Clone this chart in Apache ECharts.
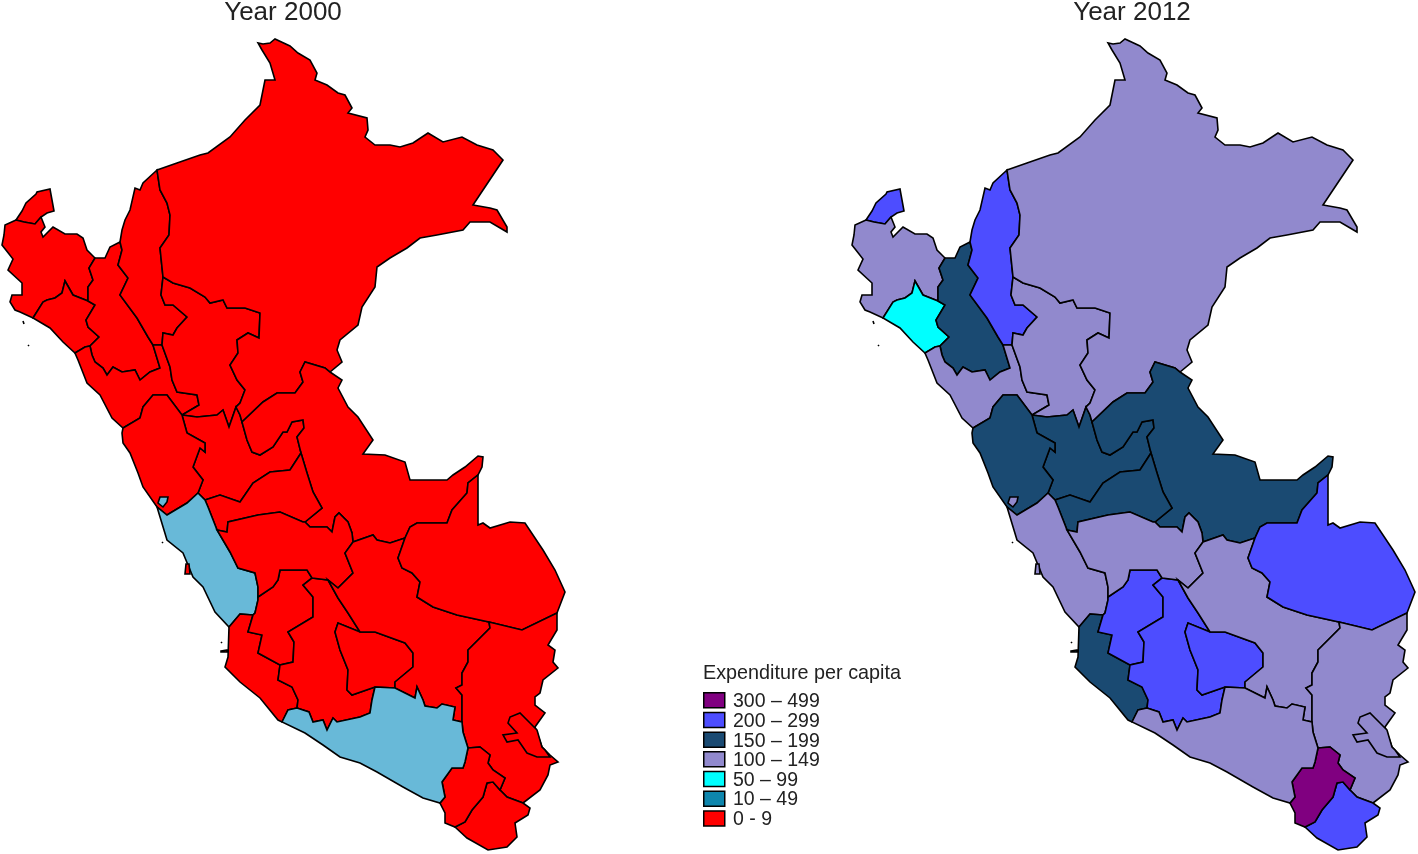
<!DOCTYPE html>
<html><head><meta charset="utf-8"><style>html,body{margin:0;background:#fff}#c{width:1418px;height:854px}</style>
<script src="https://cdn.jsdelivr.net/npm/echarts@6/dist/echarts.min.js"></script></head><body><div id="c"></div>
<script>
const regions=['Tumbes','Piura','Lambayeque','Cajamarca','Amazonas','La Libertad','San Martin','Huanuco','Loreto','Ucayali','Pasco','Ancash','Lima','Callao','Ica','Huancavelica','Ayacucho','Apurimac','Junin','Cusco','Madre de Dios','Puno','Lago Titicaca','Tacna','Moquegua','Arequipa'];
const values2000=[5,5,5,4,5,6,5,4,7,6,5,6,20,8,6,3,4,3,6,7,8,5,5,8,8,18];
const values2012=[230,125,80,165,240,120,130,170,135,180,175,170,125,125,160,225,240,250,140,130,260,115,115,280,400,145];
const legendLabels=['300 – 499','200 – 299','150 – 199','100 – 149','50 – 99','10 – 49','0 - 9'];
const legendLows=[300,200,150,100,50,10,0];
const legendColors=['#800080','#4d4dff','#1a4a72','#9189cd','#00ffff','#0e86ad','#ff0000'];
const fillColors=['#800080','#4d4dff','#1a4a72','#9189cd','#00ffff','#68b9d8','#ff0000'];
// shared boundary lines of the departments, in map units (x, southing)
const arcs={
tumCoast:[[16,220],[22,211],[26,203],[36,194],[37,192],[50,189],[52,200],[54,211],[47,213],[41,217]],
tumPiu:[[41,217],[35,224],[24,222],[16,220]],
piuWest:[[16,220],[5,225],[4,235],[2,245],[13,259],[8,270],[22,283],[22,295],[12,295],[10,302],[15,310],[20,312],[33,318]],
piuLam:[[33,318],[43,302],[47,300],[55,298],[62,293],[65,281],[73,295],[88,301]],
lamCaj:[[88,301],[95,305],[86,320],[88,327],[99,337],[90,346]],
lamLib:[[90,346],[85,347],[75,353]],
lamCoast:[[75,353],[63,342],[50,328],[33,318]],
piuCaj:[[95,258],[89,268],[93,280],[88,287],[89,300],[88,301]],
piuNorth:[[41,217],[45,227],[41,232],[43,237],[53,227],[65,234],[77,234],[83,238],[87,250],[95,258]],
cajNorth:[[95,258],[105,258],[110,247],[118,243],[120,242]],
cajAma:[[120,242],[122,250],[118,265],[128,278],[120,295],[137,318],[148,337],[153,345]],
cajLib:[[153,345],[160,368],[150,372],[140,380],[135,370],[122,372],[113,367],[107,375],[103,368],[95,362],[92,355],[90,346]],
amaLib:[[153,345],[162,345]],
libSM:[[162,345],[170,367],[172,380],[177,392],[197,395],[199,405],[182,415]],
libAnc:[[182,415],[167,395],[153,395],[143,407],[140,418],[123,428]],
libCoast:[[123,428],[112,418],[100,395],[87,383],[78,360],[75,353]],
amaNorth:[[120,242],[122,230],[125,220],[130,210],[135,188],[140,190],[143,183],[157,170]],
amaLor:[[157,170],[160,190],[167,203],[170,215],[169,235],[160,248],[163,277]],
amaSM:[[163,277],[161,295],[165,305],[173,305],[187,317],[177,328],[173,335],[163,333],[162,345]],
smLor:[[163,277],[173,283],[190,288],[205,297],[210,303],[223,300],[227,308],[245,308],[260,313],[259,338],[248,333],[237,340],[238,353],[230,365],[237,380],[245,390],[240,403],[236,407]],
smHua:[[182,415],[197,417],[217,415],[223,410],[229,427],[236,407]],
loHua:[[236,407],[240,415],[242,422]],
huaUca:[[242,422],[247,440],[252,452],[260,455],[273,447],[283,432],[287,432],[292,422],[303,420],[304,428],[297,437],[301,453]],
huaPas:[[301,453],[290,470],[270,472],[253,483],[240,502],[220,495],[205,500]],
huaLim:[[205,500],[198,493]],
huaAnc:[[198,493],[203,480],[193,467],[200,448],[205,452],[205,443],[187,433],[182,415]],
loNorth:[[157,170],[177,163],[200,155],[208,153],[230,137],[245,120],[260,105],[265,80],[275,80],[270,63],[262,50],[258,43],[263,44],[270,43],[275,39],[290,46],[298,53],[310,60],[317,73],[315,80],[327,85],[338,93],[345,95],[352,108],[348,113],[367,118],[368,130],[365,137],[375,145],[390,145],[400,147],[413,143],[428,133],[443,142],[462,137],[477,145],[493,150],[503,160],[473,205],[490,208],[497,210],[507,227],[507,232],[490,222],[470,222],[463,230],[437,235],[420,238],[407,248],[390,258],[377,267],[375,287],[362,307],[358,325],[340,340],[337,350],[342,362],[330,372]],
loUca:[[330,372],[325,368],[305,362],[300,372],[303,382],[295,393],[277,393],[263,402],[242,422]],
ucaEast:[[330,372],[342,380],[338,388],[348,407],[358,417],[373,440],[363,454],[385,455],[405,462],[410,480],[447,480],[453,475],[465,467],[478,456],[483,457],[482,467],[478,475]],
ucaMdd:[[478,475],[468,483],[467,493],[452,510],[447,523],[417,523],[410,527],[405,538]],
ucaCus:[[405,538],[390,543],[377,540],[373,535],[353,542]],
ucaJun:[[353,542],[352,533],[348,522],[339,513],[335,517],[332,532],[327,527],[310,527],[305,522]],
ucaPas:[[305,522],[322,508],[313,492],[307,473],[301,453]],
pasJun:[[217,530],[227,532],[228,522],[258,515],[280,512],[303,522],[305,522]],
pasLim:[[205,500],[208,507],[217,530]],
ancLim:[[157,507],[167,515],[187,503],[198,493]],
ancCoast:[[123,428],[122,433],[123,443],[130,453],[138,473],[143,487],[157,507]],
limCoast:[[157,507],[167,540],[183,553],[193,577],[203,587],[215,612],[229,627]],
limIca:[[229,627],[240,614],[253,615]],
limHuv:[[253,615],[255,613],[258,600],[258,597]],
limJun:[[217,530],[230,552],[238,568],[255,573],[258,587],[258,597]],
icaCoast:[[229,627],[228,657],[225,667],[240,682],[260,698],[278,720],[282,722]],
icaAre:[[282,722],[288,710],[297,708]],
icaAya:[[297,708],[298,700],[292,687],[278,680],[280,665]],
icaHuv:[[280,665],[258,653],[262,635],[248,632],[253,615]],
huvJun:[[258,597],[273,587],[278,580],[280,570],[307,570],[312,578]],
huvAya:[[312,578],[303,585],[313,597],[313,617],[288,632],[294,642],[293,662],[280,665]],
ayaJun:[[312,578],[328,580]],
ayaCus:[[328,580],[338,598],[348,613],[360,632]],
ayaApu:[[360,632],[338,623],[335,632],[340,650],[348,670],[347,690],[352,695],[375,687]],
ayaAre:[[375,687],[372,700],[370,713],[360,717],[337,722],[333,718],[327,730],[323,720],[313,722],[309,712],[297,708]],
apuCus:[[360,632],[375,632],[405,643],[413,653],[413,667],[395,682],[395,688]],
apuAre:[[395,688],[375,687]],
junCus:[[353,542],[345,553],[353,573],[338,588],[328,580]],
mddCus:[[405,538],[398,558],[402,568],[412,573],[420,582],[417,597],[433,607],[457,615],[489,622]],
cusPun:[[489,622],[490,628],[468,650],[468,662],[462,673],[462,685],[456,688],[462,695],[462,722]],
cusAre:[[462,722],[453,720],[455,707],[442,704],[437,708],[425,706],[423,700],[417,687],[415,698],[405,693],[395,688]],
mddEast:[[478,475],[478,525],[483,523],[490,528],[510,522],[525,523],[543,550],[555,570],[565,592],[557,613]],
mddPun:[[557,613],[522,630],[489,622]],
punEast:[[557,613],[557,630],[548,645],[555,650],[553,662],[558,668],[543,680],[540,693],[535,697],[535,705],[545,713],[535,727],[542,747],[550,755],[558,762],[550,765],[548,775],[540,790],[523,803]],
punTac:[[523,803],[507,797],[500,790]],
punMoq:[[500,790],[505,778],[493,770],[488,763],[490,755],[480,747],[468,748]],
punAre:[[468,748],[463,732],[462,722]],
tacEast:[[523,803],[530,808],[528,815],[515,823],[517,837],[507,847],[488,850],[467,838],[455,827]],
tacMoq:[[455,827],[465,822],[472,810],[483,797],[487,783],[493,782],[500,790]],
moqAre:[[468,748],[465,762],[463,768],[452,768],[442,782],[445,797],[440,803]],
moqCoast:[[440,803],[445,813],[445,823],[455,827]],
areCoast:[[440,803],[423,798],[403,787],[377,772],[360,763],[340,757],[323,745],[305,733],[282,722]]
};
// each ring: boundary lines in order, '-' means walked backwards
const rings={
Tumbes:'tumCoast tumPiu',
Piura:'piuWest piuLam -piuCaj -piuNorth tumPiu',
Lambayeque:'piuLam lamCaj lamLib lamCoast',
Cajamarca:'cajNorth cajAma cajLib -lamCaj -piuCaj',
'La Libertad':'-lamLib -cajLib amaLib libSM libAnc libCoast',
Amazonas:'amaNorth amaLor amaSM -amaLib -cajAma',
'San Martin':'smLor -smHua -libSM -amaSM',
Huanuco:'smHua loHua huaUca huaPas huaLim huaAnc',
Loreto:'loNorth loUca -loHua -smLor -amaLor',
Ucayali:'ucaEast ucaMdd ucaCus ucaJun ucaPas -huaUca -loUca',
Pasco:'pasLim pasJun ucaPas huaPas',
Ancash:'ancCoast ancLim huaAnc libAnc',
Lima:'limCoast limIca limHuv -limJun -pasLim huaLim -ancLim',
Ica:'icaCoast icaAre icaAya icaHuv -limIca',
Huancavelica:'huvJun huvAya icaHuv limHuv',
Ayacucho:'ayaJun ayaCus ayaApu ayaAre icaAya -huvAya',
Apurimac:'apuCus apuAre -ayaApu',
Junin:'pasJun -ucaJun junCus -ayaJun -huvJun -limJun',
Cusco:'mddCus cusPun cusAre -apuCus -ayaCus -junCus -ucaCus',
'Madre de Dios':'mddEast mddPun -mddCus -ucaMdd',
Puno:'punEast punTac punMoq punAre -cusPun -mddPun',
Tacna:'tacEast tacMoq -punTac',
Moquegua:'moqAre moqCoast tacMoq punMoq',
Arequipa:'icaAre -ayaAre -apuAre -cusAre -punAre moqAre areCoast'
};
// lakes, islands and enclaves that belong to a department
const extraParts={
Lima:[[[160,497],[168,497],[167,502],[163,507],[158,503]],[[162,542],[163,542],[163,543],[162,543]]],
Lambayeque:[[[23,321],[24,321],[24,324],[23,324]],[[28,345],[29,345],[29,346],[28,346]]],
Ica:[[[221,651],[227,650],[227,652],[221,652]],[[221,642],[222,642],[222,643],[221,643]]]
};
const standalone={
Callao:[[186,564],[189,564],[190,574],[185,574]],
'Lago Titicaca':[[537,730],[520,713],[510,717],[508,723],[517,733],[503,735],[507,742],[518,740],[527,753],[537,757],[550,757],[545,750],[542,747]]
};
function ringFrom(spec){
  const out=[];
  spec.split(' ').forEach(s=>{
    const rev=s[0]==='-';
    let line=arcs[rev?s.slice(1):s].slice();
    if(rev)line.reverse();
    out.push(...(out.length?line.slice(1):line));
  });
  return out;
}
const flip=r=>r.map(p=>[p[0],-p[1]]);
const buildFeatures=()=>regions.map(name=>{
  const parts=[];
  if(standalone[name])parts.push(standalone[name]);else parts.push(ringFrom(rings[name]));
  (extraParts[name]||[]).forEach(p=>parts.push(p));
  return {type:'Feature',properties:{name},geometry:{type:'MultiPolygon',coordinates:parts.map(p=>{const q=flip(p);q.push(q[0]);return [q];})}};
});
echarts.registerMap('peru2000',{type:'FeatureCollection',features:buildFeatures()});
echarts.registerMap('peru2012',{type:'FeatureCollection',features:buildFeatures()});
function colorOf(v){for(let i=0;i<legendLows.length;i++){if(v>=legendLows[i])return fillColors[i];}return fillColors[fillColors.length-1];}
const mapSeries=(mapName,values,left)=>({type:'map',map:mapName,aspectScale:1,roam:false,silent:true,selectedMode:false,left,top:39,width:563,height:811,
  label:{show:false},emphasis:{disabled:true},
  itemStyle:{borderColor:'#000',borderWidth:1.6},
  data:regions.map((name,i)=>({name,value:values[i],itemStyle:{areaColor:colorOf(values[i])}}))});
const font='"Liberation Sans",Arial,sans-serif';
const legendItems=[];
legendLabels.forEach((t,i)=>{
  legendItems.push({type:'rect',left:703,top:692+i*19.7,shape:{width:21,height:15},style:{fill:legendColors[i],stroke:'#000',lineWidth:1.5}});
  legendItems.push({type:'text',left:733,top:692+i*19.62,style:{text:t,font:'19.5px '+font,fill:'#222'}});
});
const chart=echarts.init(document.getElementById('c'),null,{renderer:'canvas'});
chart.setOption({backgroundColor:'#fff',animation:false,
  title:[
   {text:'Year 2000',left:278,top:-5,textAlign:'center',textStyle:{fontFamily:font,fontSize:26,fontWeight:'normal',color:'#222'}},
   {text:'Year 2012',left:1127,top:-5,textAlign:'center',textStyle:{fontFamily:font,fontSize:26,fontWeight:'normal',color:'#222'}},
   {text:'Expenditure per capita',left:703,top:664,padding:0,textStyle:{fontFamily:font,fontSize:19.8,fontWeight:'normal',color:'#222'}}
  ],
  series:[mapSeries('peru2000',values2000,2),mapSeries('peru2012',values2012,852)],
  graphic:{elements:legendItems}
});
</script></body></html>
